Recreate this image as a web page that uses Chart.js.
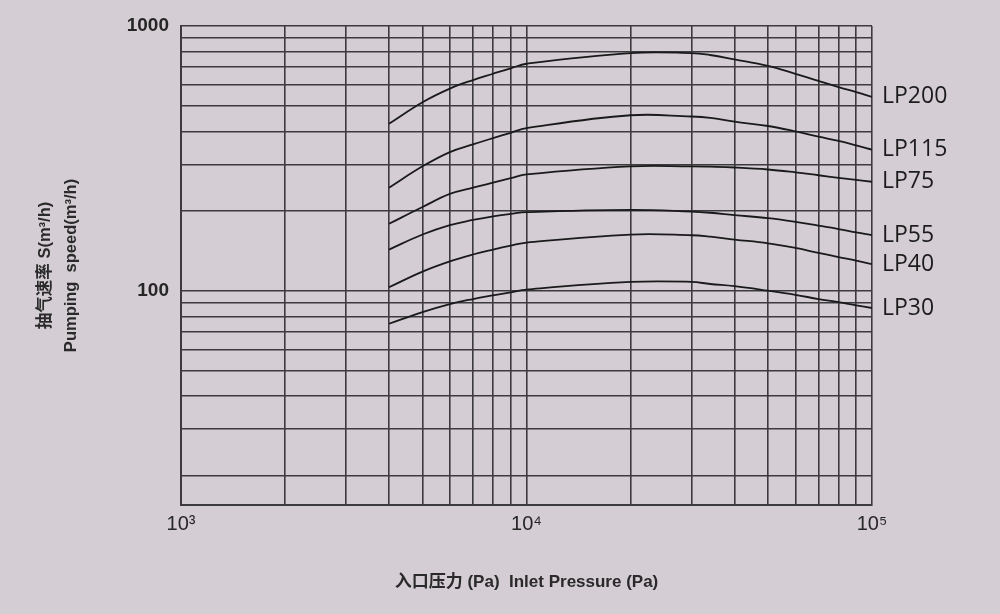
<!DOCTYPE html>
<html>
<head>
<meta charset="utf-8">
<script src="https://cdn.jsdelivr.net/npm/chart.js@4/dist/chart.umd.min.js"></script>
<style>
  html, body { margin: 0; padding: 0; background: #d4cdd3; }
  #wrap { width: 1000px; height: 614px; }
</style>
</head>
<body>
<div id="wrap"><canvas id="pumpChart" width="1000" height="614"></canvas></div>
<script>
// inlet pressure (Pa), shared by every curve
const pressure = [4000, 5000, 6000, 7000, 8000, 9000, 10000, 20000, 30000, 34000, 40000, 50000, 60000, 70000, 80000, 90000, 100000];

// pumping speed (m3/h)
const lp200 = [427, 515, 580, 625, 660, 692, 720, 790, 790, 777, 748, 707, 660, 620, 588, 563, 540];
const lp115 = [245, 295, 334, 357, 377, 395, 411, 460, 455, 450, 435, 419, 400, 382, 368, 354, 341];
const lp75 = [179, 207, 232, 245, 256, 266, 275, 295, 295, 294, 292, 287, 280, 273, 267, 262, 258];
const lp55 = [143, 163, 177, 185, 191, 195, 198, 202, 199, 197, 193, 188, 182, 176, 171, 166, 162];
const lp40 = [103, 118, 129, 137, 143, 148, 152, 163, 162, 160, 156, 151, 145, 139, 134, 130, 126];
const lp30 = [75, 83, 89, 93, 96, 98.5, 101, 108, 108, 106, 104, 100, 96.5, 93, 90.5, 88, 86];

const models = ["LP200", "LP115", "LP75", "LP55", "LP40", "LP30"];
const speeds = [lp200, lp115, lp75, lp55, lp40, lp30];

// grid / tick values
const xTicks = [1000, 2000, 3000, 4000, 5000, 6000, 7000, 8000, 9000,
  10000, 20000, 30000, 40000, 50000, 60000, 70000, 80000, 90000, 100000];
const xTickLabels = { 1000: "10³", 10000: "10⁴", 100000: "10⁵" };
const yTicks = [20, 30, 40, 50, 60, 70, 80, 90, 100, 200, 300, 400, 500, 600, 700, 800, 900, 1000];
const yTickLabels = { 100: "100", 1000: "1000" };

const gridColor = "#3d3a3e";
const font = "'Liberation Sans', 'Noto Sans CJK SC', sans-serif";

const seriesLabels = {
  id: "seriesLabels",
  afterDatasetsDraw(chart) {
    const ctx = chart.ctx;
    ctx.save();
    ctx.font = "23px 'Open Sans'";
    ctx.fillStyle = "#1c1c1c";
    ctx.textBaseline = "middle";
    chart.data.datasets.forEach((ds, i) => {
      const pts = chart.getDatasetMeta(i).data;
      const last = pts[pts.length - 1];
      ctx.fillText(ds.label, last.x + 10, last.y);
    });
    ctx.restore();
  }
};

new Chart(document.getElementById("pumpChart"), {
  type: "line",
  data: {
    datasets: models.map((name, i) => ({
      label: name,
      data: pressure.map((p, j) => ({ x: p, y: speeds[i][j] })),
      borderColor: "#1a1a1a",
      borderWidth: 1.8,
      pointRadius: 0,
      fill: false,
      tension: 0.4,
    })),
  },
  options: {
    responsive: false,
    animation: false,
    layout: { padding: { top: 26, right: 128, left: 0, bottom: 0 } },
    plugins: {
      legend: { display: false },
      tooltip: { enabled: false },
    },
    scales: {
      x: {
        type: "logarithmic",
        min: 1000,
        max: 100000,
        afterBuildTicks: (scale) => {
          scale.ticks = xTicks.map((v) => ({ value: v }));
        },
        afterFit: (scale) => {
          scale.height = 109;
        },
        ticks: {
          autoSkip: false,
          maxRotation: 0,
          padding: 7,
          color: "#262626",
          font: { family: font, size: 20 },
          callback: (v) => xTickLabels[v] || "",
        },
        grid: { color: gridColor, lineWidth: 1.6, drawTicks: false },
        border: { color: gridColor, width: 2 },
        title: {
          display: true,
          text: "入口压力 (Pa)  Inlet Pressure (Pa)",
          color: "#2a2a2a",
          font: { family: font, size: 17, weight: "bold" },
          padding: { top: 0, bottom: 21 },
        },
      },
      y: {
        type: "logarithmic",
        min: 15.5,
        max: 1000,
        afterBuildTicks: (scale) => {
          scale.ticks = yTicks.map((v) => ({ value: v }));
        },
        afterFit: (scale) => {
          scale.width = 181;
        },
        ticks: {
          autoSkip: false,
          padding: 12,
          color: "#262626",
          font: { family: font, size: 19, weight: "bold" },
          callback: (v) => yTickLabels[v] || "",
        },
        grid: { color: gridColor, lineWidth: 1.6, drawTicks: false },
        border: { color: gridColor, width: 2 },
        title: {
          display: true,
          text: ["抽气速率 S(m³/h)", "Pumping  speed(m³/h)"],
          color: "#2a2a2a",
          font: { family: font, size: 16.5, weight: "bold", lineHeight: 1.6 },
          padding: { top: 32, bottom: 0 },
        },
      },
    },
  },
  plugins: [seriesLabels],
});
</script>
</body>
</html>
